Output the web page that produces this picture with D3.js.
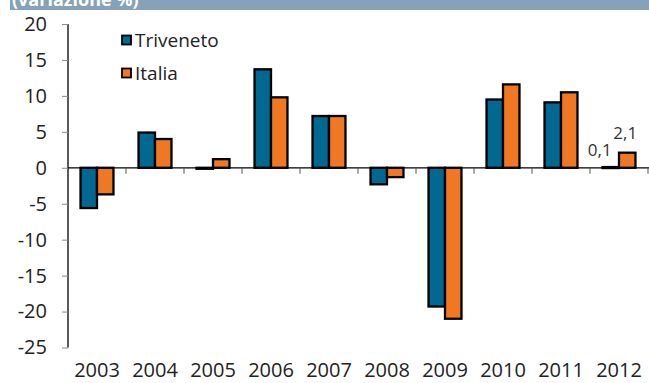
<!DOCTYPE html>
<html>
<head>
<meta charset="utf-8">
<script src="https://cdn.jsdelivr.net/npm/d3@7"></script>
<style>
  html, body { margin: 0; padding: 0; background: #fff; }
  svg { display: block; font-family: "Open Sans", "Noto Sans", sans-serif; }
</style>
</head>
<body>
<svg id="chart" width="649" height="383"></svg>
<script>
// Annual change (%) by year
const years = ["2003","2004","2005","2006","2007","2008","2009","2010","2011","2012"];
const triveneto = [-5.6, 4.9, -0.1, 13.7, 7.2, -2.3, -19.3, 9.5, 9.1, 0.1];
const italia    = [-3.7, 4.0, 1.2, 9.8, 7.2, -1.3, -21.0, 11.6, 10.5, 2.1];
const seriesNames = ["Triveneto", "Italia"];
const seriesColors = ["#006891", "#F07822"];
const yTicks = [20, 15, 10, 5, 0, -5, -10, -15, -20, -25];
const valueLabels = [{ year: "2012", series: 0, text: "0,1" }, { year: "2012", series: 1, text: "2,1" }];

const svg = d3.select("#chart");
const W = 649;
const m = { left: 68, right: 1 };

// Header band with the unit caption (partly cropped at the top edge)
svg.append("rect").attr("x", 10).attr("y", 0).attr("width", W - 10).attr("height", 10).attr("fill", "#86A2B8");
svg.append("text").attr("x", 12).attr("y", 6).attr("fill", "#fff")
  .attr("font-size", 18).attr("font-weight", "bold").text("(variazione %)");

const x = d3.scaleBand().domain(years).range([m.left, W - m.right]).paddingInner(0).paddingOuter(0);
const y = d3.scaleLinear().domain([-25, 20]).range([347.5, 24]);
const xs = d3.scaleBand().domain([0, 1]).range([0, x.bandwidth()]).paddingInner(0).paddingOuter(0.76);

// Y axis
const yAxis = svg.append("g").attr("transform", `translate(${m.left},0)`)
  .call(d3.axisLeft(y).tickValues(yTicks).tickSize(6).tickPadding(15).tickFormat(d => String(d)));
yAxis.select(".domain").attr("stroke", "#000").attr("stroke-width", 1.3).attr("d", `M0,${y(20)}V${y(-25)}`);
yAxis.selectAll(".tick line").attr("stroke", "#888");
yAxis.selectAll(".tick text").attr("font-size", 20).attr("fill", "#222")
  .attr("font-family", "'Open Sans', sans-serif");

// Bars
const data = [triveneto, italia];
const groups = svg.append("g");
years.forEach((yr, i) => {
  data.forEach((vals, s) => {
    const v = vals[i];
    groups.append("rect")
      .attr("x", x(yr) + xs(s))
      .attr("width", xs.bandwidth())
      .attr("y", y(Math.max(0, v)))
      .attr("height", Math.max(1, Math.abs(y(v) - y(0))))
      .attr("fill", seriesColors[s])
      .attr("stroke", "#000")
      .attr("stroke-width", 2.3);
  });
});

// X axis along zero line, ticks between categories
const xAxisG = svg.append("g").attr("transform", `translate(0,${y(0)})`);
xAxisG.append("line").attr("x1", m.left).attr("x2", W).attr("stroke", "#000").attr("stroke-width", 1.3);
years.forEach(yr => {
  const bx = x(yr) + x.bandwidth();
  xAxisG.append("line").attr("x1", bx).attr("x2", bx).attr("y1", 0).attr("y2", 6)
    .attr("stroke", "#555").attr("stroke-width", 1);
});

// Year labels
svg.append("g").selectAll("text").data(years).join("text")
  .attr("x", d => x(d) + x.bandwidth() / 2)
  .attr("y", 377)
  .attr("text-anchor", "middle")
  .attr("font-size", 20).attr("fill", "#222")
  .text(d => d);

// Value labels for the latest year
valueLabels.forEach(l => {
  const v = data[l.series][years.indexOf(l.year)];
  const cx = x(l.year) + xs(l.series) + xs.bandwidth() / 2;
  svg.append("text")
    .attr("x", l.series === 0 ? cx - 11 : cx - 2)
    .attr("y", y(Math.max(0, v)) - (l.series === 0 ? 11 : 14))
    .attr("text-anchor", "middle")
    .attr("font-size", 17).attr("fill", "#333")
    .text(l.text);
});

// Legend
const legend = svg.append("g");
seriesNames.forEach((name, i) => {
  const ly = 40 + i * 33;
  legend.append("rect").attr("x", 122).attr("y", ly - 4.5).attr("width", 9).attr("height", 9)
    .attr("fill", seriesColors[i]).attr("stroke", "#000").attr("stroke-width", 1.8);
  legend.append("text").attr("x", 135).attr("y", ly + 7).attr("font-size", 19).attr("fill", "#222").text(name);
});
</script>
</body>
</html>
